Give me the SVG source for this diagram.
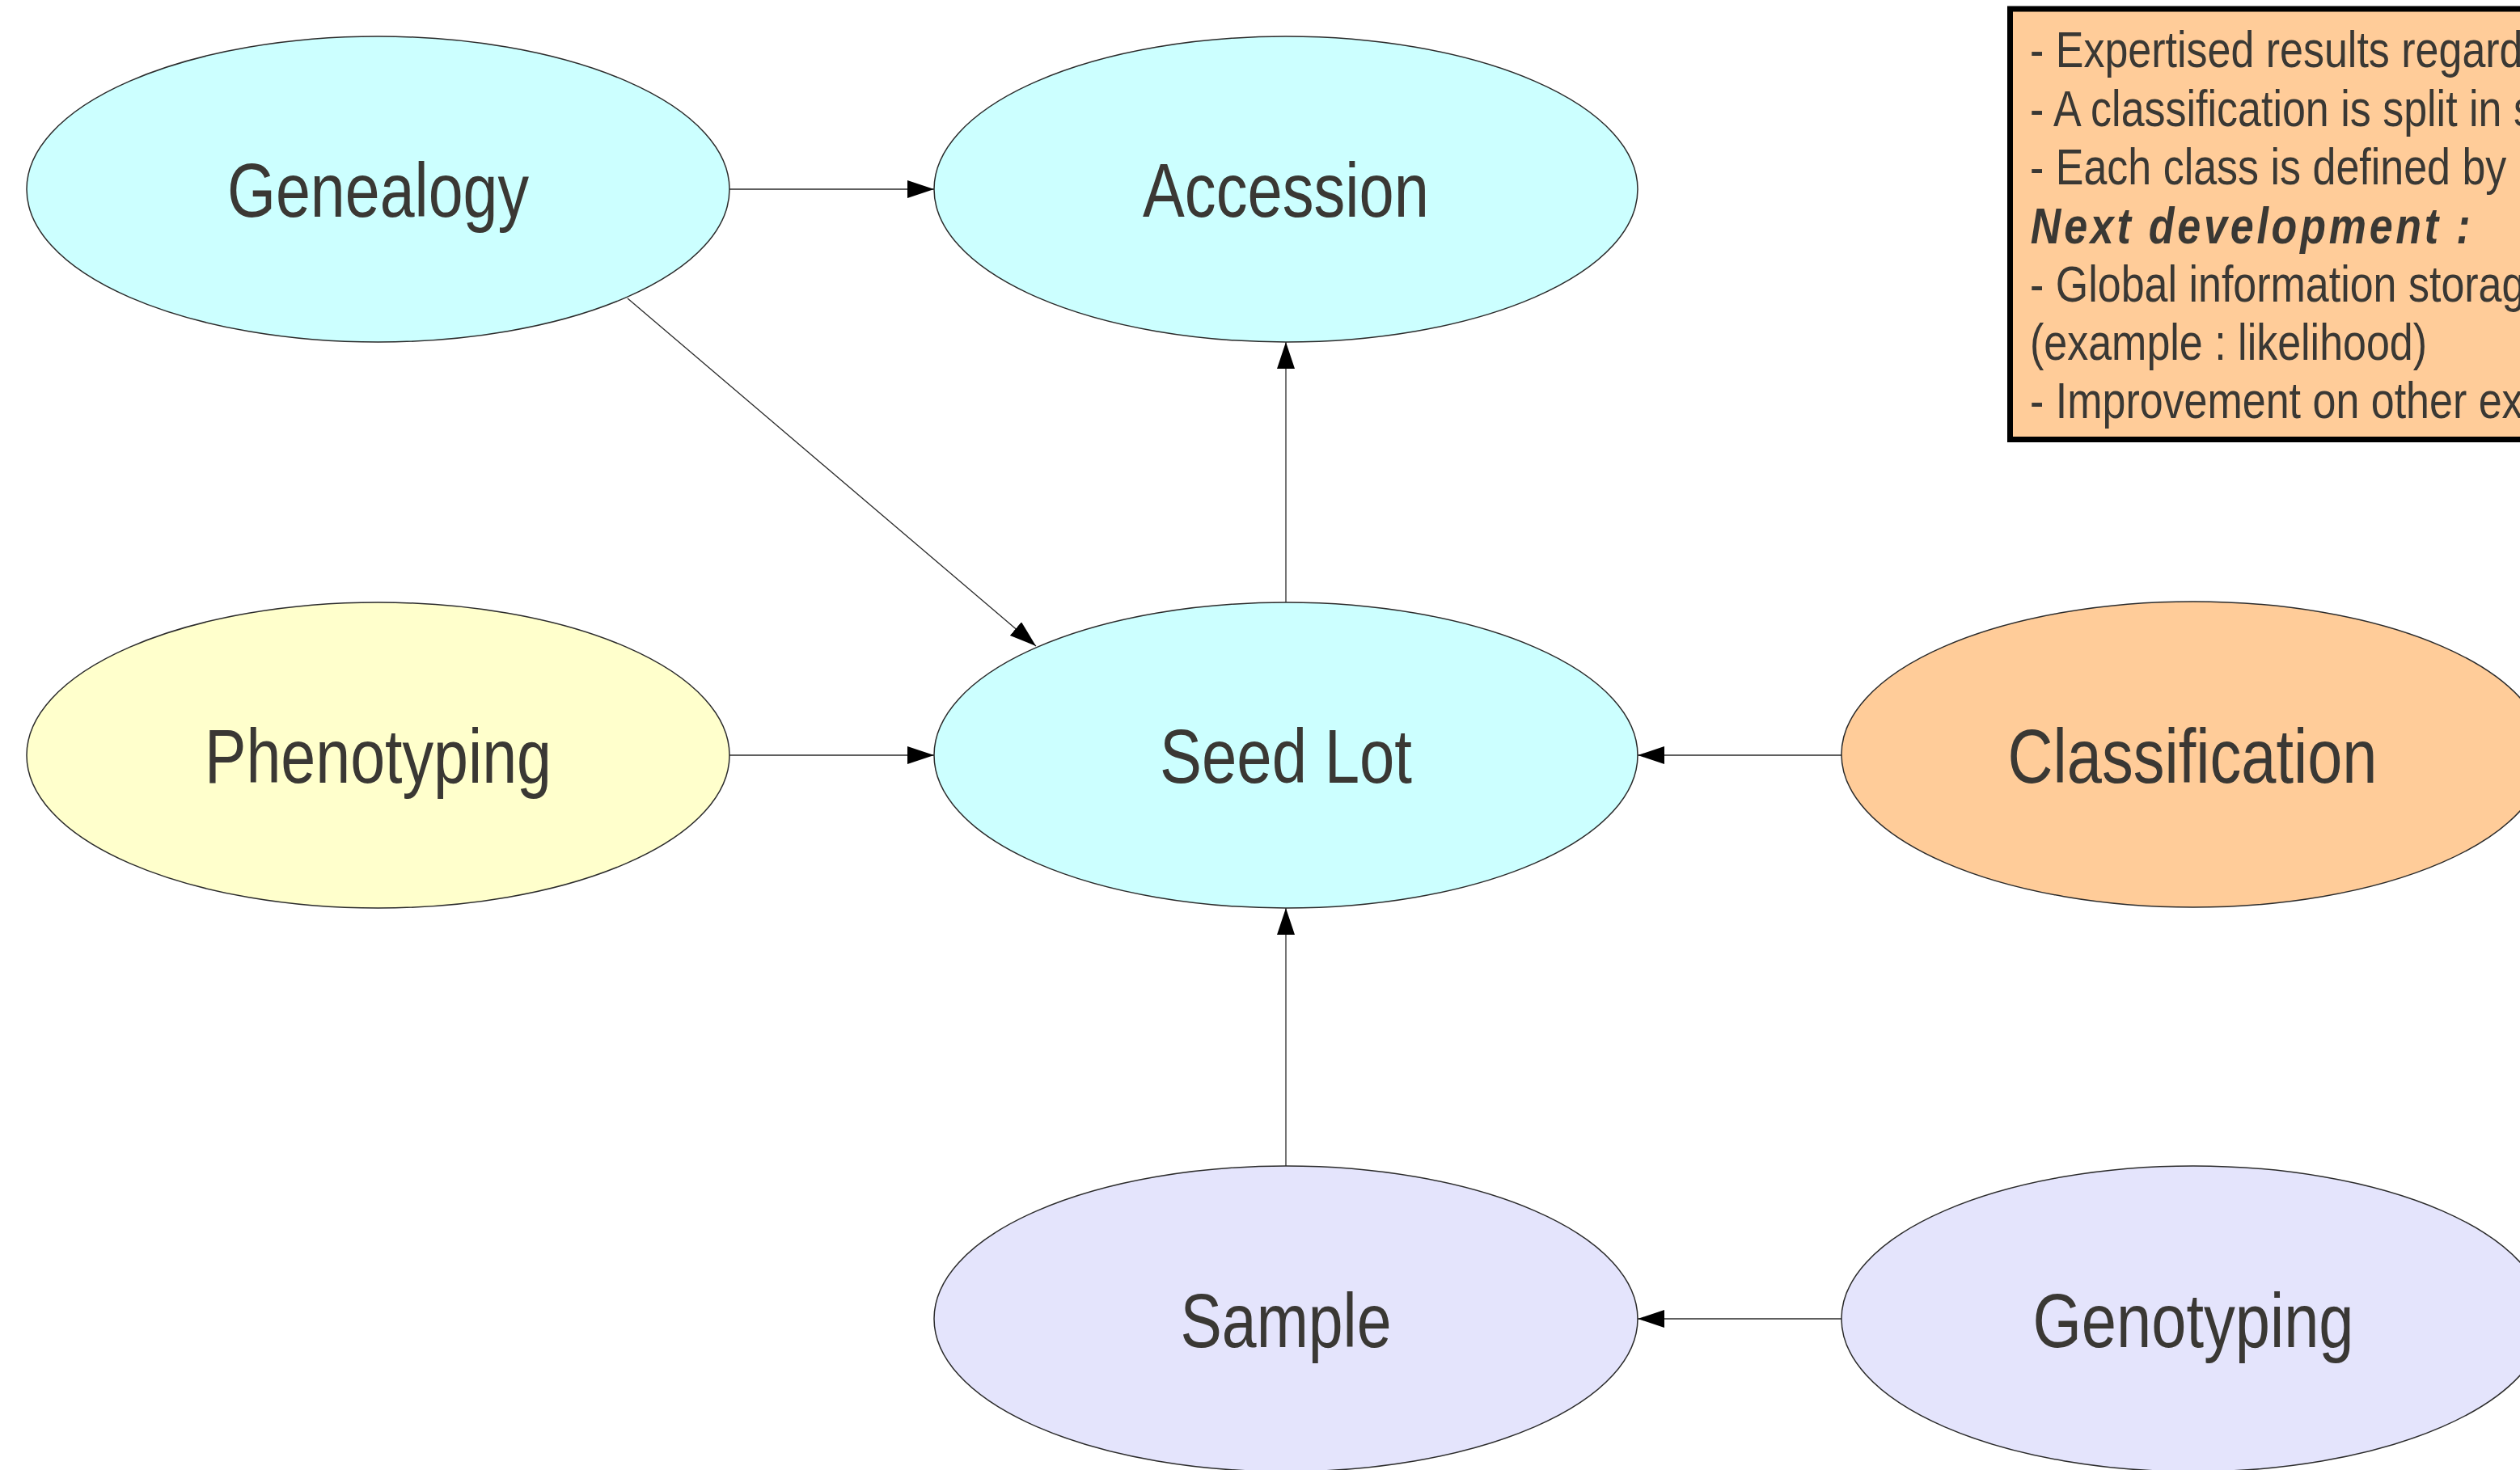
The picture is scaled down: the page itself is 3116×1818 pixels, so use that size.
<svg xmlns="http://www.w3.org/2000/svg" width="3116" height="1818" viewBox="0 0 3116 1818">
<style>
.node ellipse{stroke:#2b2b2b;stroke-width:1.5}
.lbl{font-family:"Liberation Sans",Arial,sans-serif;font-size:95px;fill:#3a3834;text-anchor:middle}
.edge{stroke:#2a2a2a;stroke-width:1.3;fill:none;marker-end:url(#arr)}
.note{font-family:"Liberation Sans",Arial,sans-serif;font-size:63px;fill:#3a3834}
.cyan{fill:#ccffff}.yellow{fill:#ffffcc}.orange{fill:#ffcc99}.lav{fill:#e4e4fc}
</style>
<defs>
<marker id="arr" markerUnits="userSpaceOnUse" markerWidth="34" markerHeight="22" refX="33" refY="11" orient="auto" viewBox="0 0 34 22">
<path d="M0,0 L33,11 L0,22 z" fill="#000"/>
</marker>
</defs>
<rect width="3116" height="1818" fill="#ffffff"/>
<g id="connectors">
<line class="edge" x1="902" y1="234" x2="1155" y2="234"/>
<line class="edge" x1="776" y1="369" x2="1281" y2="799"/>
<line class="edge" x1="1590" y1="745" x2="1590" y2="423"/>
<line class="edge" x1="902" y1="934" x2="1155" y2="934"/>
<line class="edge" x1="2277" y1="934" x2="2025" y2="934"/>
<line class="edge" x1="1590" y1="1443" x2="1590" y2="1123"/>
<line class="edge" x1="2277" y1="1631" x2="2025" y2="1631"/>
</g>
<g id="genealogy" class="node">
<ellipse class="cyan" cx="467.5" cy="234" rx="434.5" ry="189"/>
<text class="lbl" x="467.5" y="268" textLength="373" lengthAdjust="spacingAndGlyphs">Genealogy</text>
</g>
<g id="accession" class="node">
<ellipse class="cyan" cx="1590" cy="234" rx="435" ry="189"/>
<text class="lbl" x="1590" y="268" textLength="354" lengthAdjust="spacingAndGlyphs">Accession</text>
</g>
<g id="phenotyping" class="node">
<ellipse class="yellow" cx="467.5" cy="934" rx="434.5" ry="189"/>
<text class="lbl" x="467.5" y="968" textLength="429" lengthAdjust="spacingAndGlyphs">Phenotyping</text>
</g>
<g id="seedlot" class="node">
<ellipse class="cyan" cx="1590" cy="934" rx="435" ry="189"/>
<text class="lbl" x="1590" y="968" textLength="312" lengthAdjust="spacingAndGlyphs">Seed Lot</text>
</g>
<g id="classification" class="node">
<ellipse class="orange" cx="2712" cy="933" rx="435" ry="189"/>
<text class="lbl" x="2711" y="968" textLength="457" lengthAdjust="spacingAndGlyphs">Classification</text>
</g>
<g id="sample" class="node">
<ellipse class="lav" cx="1590" cy="1631" rx="435" ry="189"/>
<text class="lbl" x="1590" y="1666" textLength="261" lengthAdjust="spacingAndGlyphs">Sample</text>
</g>
<g id="genotyping" class="node">
<ellipse class="lav" cx="2712" cy="1631" rx="435" ry="189"/>
<text class="lbl" x="2712" y="1666" textLength="397" lengthAdjust="spacingAndGlyphs">Genotyping</text>
</g>
<g id="note">
<rect x="2485.5" y="11" width="700" height="532.5" class="orange" stroke="#000" stroke-width="7"/>
<g class="note" transform="translate(2510,0) scale(0.825,1)">
<text x="0" y="83.5">- Expertised results regard</text>
<text x="0" y="156">- A classification is split in s</text>
<text x="0" y="228.5">- Each class is defined by</text>
<text x="1" y="301" font-weight="bold" font-style="italic" textLength="659" lengthAdjust="spacing">Next development :</text>
<text x="0" y="373">- Global information storag</text>
<text x="0" y="445">(example : likelihood)</text>
<text x="0" y="517">- Improvement on other ex</text>
</g>
</g>
</svg>
